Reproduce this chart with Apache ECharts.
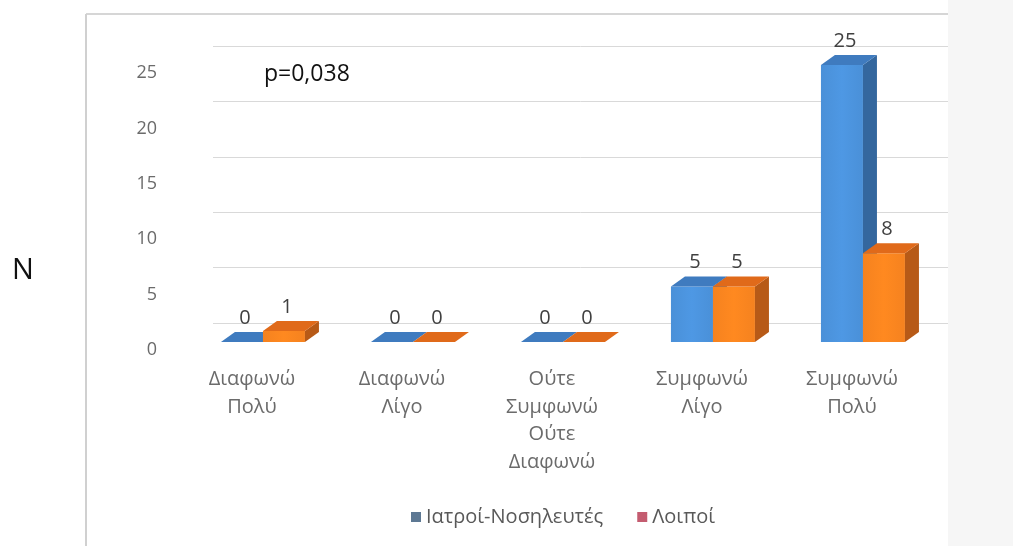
<!DOCTYPE html>
<html lang="el">
<head>
    <meta charset="UTF-8">
    <title>Ιατροί-Νοσηλευτές / Λοιποί</title>
    <script src="https://cdn.jsdelivr.net/npm/echarts@6.0.0/dist/echarts.min.js"></script>
    <style>
        html, body { margin: 0; padding: 0; background: #fff; }
        #chart { width: 1013px; height: 546px; }
    </style>
</head>
<body>
    <div id="chart"></div>
    <script>
        // δεδομένα
        var categories = ['Διαφωνώ\nΠολύ', 'Διαφωνώ\nΛίγο', 'Ούτε\nΣυμφωνώ\nΟύτε\nΔιαφωνώ', 'Συμφωνώ\nΛίγο', 'Συμφωνώ\nΠολύ'];
        var seriesNames = ['Ιατροί-Νοσηλευτές', 'Λοιποί'];
        var doctors = [0, 0, 0, 5, 25];
        var others = [1, 0, 0, 5, 8];
        var yTicks = [0, 5, 10, 15, 20, 25];

        var font = '"Open Sans", "Liberation Sans", sans-serif';

        // χρώματα όψεων (μπροστά, πλάι, πάνω)
        var faces = [
            { front: '#4a90d8', side: '#34679e', top: '#3f7bbf', legend: '#5d7893' },
            { front: '#f5821f', side: '#b75a17', top: '#e06a1a', legend: '#c45c70' }
        ];

        var dx = 14, dy = 10;

        function makeRender(k) {
            return function (params, api) {
                var idx = api.value(0);
                var val = api.value(1);
                var top = api.coord([idx, val]);
                var base = api.coord([idx, 0]);
                var band = api.size([1, 0])[0];
                var w = band * 0.28;
                var shift = band * 0.073;
                var x0 = top[0] + shift - w + k * w;
                var x1 = x0 + w;
                var yT = top[1], yB = base[1];
                var c = faces[k];
                var children = [];
                if (yB - yT > 0.5) {
                    children.push({ type: 'rect', shape: { x: x0, y: yT, width: w, height: yB - yT },
                        style: { fill: new echarts.graphic.LinearGradient(0, 0, 1, 0, [
                            { offset: 0, color: c.front }, { offset: 0.5, color: echarts.color.lift(c.front, -0.06) }, { offset: 1, color: c.front }]) } });
                }
                children.push({ type: 'polygon', shape: { points: [[x1, yT], [x1 + dx, yT - dy], [x1 + dx, yB - dy], [x1, yB]] },
                    style: { fill: c.side } });
                children.push({ type: 'polygon', shape: { points: [[x0, yT], [x1, yT], [x1 + dx, yT - dy], [x0 + dx, yT - dy]] },
                    style: { fill: c.top } });
                children.push({ type: 'text', style: { text: String(val), x: (x0 + x1) / 2 + 3, y: yT - 24,
                    align: 'center', verticalAlign: 'middle', fill: '#404040', font: '20px ' + font } });
                return { type: 'group', children: children };
            };
        }

        var chart = echarts.init(document.getElementById('chart'));

        var option = {
            backgroundColor: '#fff',
            animation: false,
            graphic: [
                { type: 'rect', shape: { x: 948, y: 0, width: 65, height: 546 }, style: { fill: '#f6f6f6' }, z: -10 },
                { type: 'line', shape: { x1: 86, y1: 14, x2: 948, y2: 14 }, style: { stroke: '#d6d6d6', lineWidth: 2 }, z: -5 },
                { type: 'line', shape: { x1: 86, y1: 14, x2: 86, y2: 546 }, style: { stroke: '#d0d0d0', lineWidth: 2 }, z: -5 },
                { type: 'text', style: { text: 'p=0,038', x: 264, y: 74, verticalAlign: 'middle', fill: '#111', font: '23px ' + font } },
                { type: 'text', style: { text: 'N', x: 23, y: 271, align: 'center', verticalAlign: 'middle', fill: '#111', font: '29px ' + font } }
            ],
            legend: {
                left: 406,
                top: 502,
                itemWidth: 10,
                itemHeight: 10,
                itemGap: 34,
                icon: 'rect',
                textStyle: { color: '#595959', fontSize: 20, fontFamily: font },
                data: [
                    { name: seriesNames[0], itemStyle: { color: faces[0].legend } },
                    { name: seriesNames[1], itemStyle: { color: faces[1].legend } }
                ]
            },
            grid: [
                // πίσω τοίχος (γραμμές πλέγματος)
                { left: 213, right: 65, top: 46, bottom: 223 },
                // μπροστινό επίπεδο (μπάρες)
                { left: 177, right: 86, top: 65, bottom: 204 },
                // ετικέτες άξονα y
                { left: 177, right: 86, top: 73, bottom: 196 }
            ],
            xAxis: [
                { type: 'category', gridIndex: 0, data: categories, show: false },
                {
                    type: 'category', gridIndex: 1, data: categories,
                    axisLine: { show: false }, axisTick: { show: false },
                    axisLabel: { margin: 24, color: '#6b6b6b', fontSize: 20, lineHeight: 27.5, fontFamily: font, interval: 0 }
                },
                { type: 'category', gridIndex: 2, data: categories, show: false }
            ],
            yAxis: [
                {
                    type: 'value', gridIndex: 0, min: 0, max: 25, interval: 5,
                    axisLine: { show: false }, axisTick: { show: false }, axisLabel: { show: false },
                    splitLine: { lineStyle: { color: '#d9d9d9', width: 1 } }
                },
                {
                    type: 'value', gridIndex: 1, min: 0, max: 25, interval: 5,
                    axisLine: { show: false }, axisTick: { show: false }, splitLine: { show: false },
                    axisLabel: { show: false }
                },
                {
                    type: 'value', gridIndex: 2, min: 0, max: 25, interval: 5,
                    axisLine: { show: false }, axisTick: { show: false }, splitLine: { show: false },
                    axisLabel: {
                        margin: 20, color: '#6b6b6b', fontSize: 18, fontFamily: font,
                        formatter: function (v) { return yTicks.indexOf(v) >= 0 ? String(v) : ''; }
                    }
                }
            ],
            series: [
                {
                    name: seriesNames[0], type: 'custom', xAxisIndex: 1, yAxisIndex: 1,
                    itemStyle: { color: faces[0].legend },
                    renderItem: makeRender(0),
                    data: doctors.map(function (v, i) { return [i, v]; })
                },
                {
                    name: seriesNames[1], type: 'custom', xAxisIndex: 1, yAxisIndex: 1,
                    itemStyle: { color: faces[1].legend },
                    renderItem: makeRender(1),
                    data: others.map(function (v, i) { return [i, v]; })
                }
            ]
        };

        chart.setOption(option);
    </script>
</body>
</html>
